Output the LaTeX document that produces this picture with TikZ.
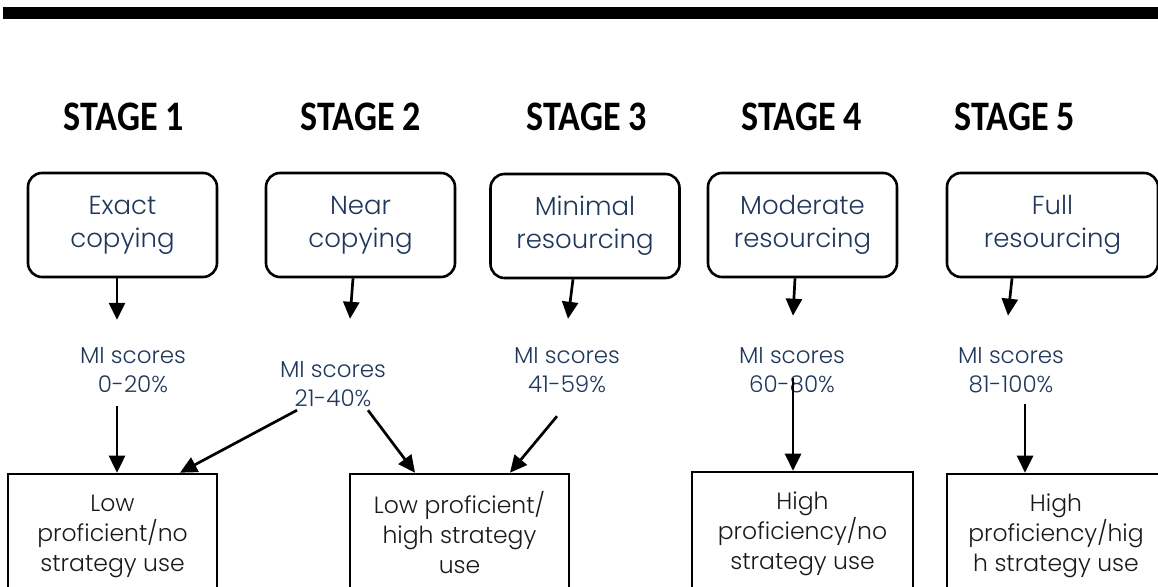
\documentclass[tikz,border=0pt]{standalone}
\usepackage{fontspec}
\usepackage{tikz}
\usetikzlibrary{arrows.meta}
\IfFontExistsTF{Poppins Light}{\setmainfont{Poppins Light}}{\setmainfont{Poppins}}
\newfontfamily\titlefam[FakeStretch=0.86]{Carlito}
\definecolor{navy}{RGB}{30,55,90}

\begin{document}
\begin{tikzpicture}[x=1pt,y=-1pt,
  title/.style={font=\titlefam\bfseries\fontsize{42}{50}\selectfont},
  stagebox/.style={draw,line width=2.6pt,rounded corners=14pt,minimum width=189pt,minimum height=104pt,align=center,text=navy,font=\fontsize{26}{33}\selectfont},
  score/.style={align=center,text=navy,font=\fontsize{23}{29}\selectfont},
  levelbox/.style={draw,line width=2.6pt,minimum height=124pt,align=center,text=black!90,font=\fontsize{23.5}{30}\selectfont},
  arr/.style={line width=2.7pt,-{Triangle[length=17pt,width=16pt]}}]
\clip (0,0) rectangle (1158,586);
\useasboundingbox (0,0) rectangle (1158,586);
\fill (3,7) rectangle (1158,19);
\node[title] (s1) at (124,117) {STAGE 1};
\node[title] (s2) at (361,117) {STAGE 2};
\node[title] (s3) at (587,117) {STAGE 3};
\node[title] (s4) at (802,117) {STAGE 4};
\node[title] (s5) at (1015,117) {STAGE 5};
\node[stagebox] (b1) at (122.5,225) {Exact\\copying};
\node[stagebox] (b2) at (360.5,225) {Near\\copying};
\node[stagebox] (b3) at (585,226) {Minimal\\resourcing};
\node[stagebox] (b4) at (802.5,225) {Moderate\\resourcing};
\node[stagebox,minimum width=211pt] (b5) at (1052.5,225) {Full\\resourcing};
\node[score] (m1) at (133,370) {MI scores\\0-20\%};
\node[score] (m2) at (333,384) {MI scores\\21-40\%};
\node[score] (m3) at (567,370) {MI scores\\41-59\%};
\node[score] (m4) at (792,370) {MI scores\\60-80\%};
\node[score] (m5) at (1011,370) {MI scores\\81-100\%};
\node[levelbox,minimum width=209pt] (l1) at (112.5,536) {Low\\proficient/no\\strategy use};
\node[levelbox,minimum width=219pt] (l2) at (459.5,536) {Low proficient/\\high strategy\\use\vphantom{g}};
\node[levelbox,minimum width=221pt] (l4) at (802.5,534) {High\\proficiency/no\\strategy use};
\node[levelbox,minimum width=218pt] (l5) at (1056,536) {High\\proficiency/hig\\h strategy use};
\draw[arr] ([xshift=-5.5pt]b1.south) -- ([xshift=-16pt,yshift=24pt]m1.north);
\draw[arr] ([xshift=-7.5pt]b2.south) -- ([xshift=17pt,yshift=39pt]m2.north);
\draw[arr] ([xshift=-12pt]b3.south) -- ([xshift=1pt,yshift=25pt]m3.north);
\draw[arr] ([xshift=-7.5pt]b4.south) -- ([xshift=1pt,yshift=28pt]m4.north);
\draw[arr] ([xshift=-40.5pt]b5.south) -- ([xshift=-3pt,yshift=28pt]m5.north);
\draw[arr] ([xshift=-16pt,yshift=-10pt]m1.south) -- ([xshift=4.5pt]l1.north);
\draw[arr] ([xshift=-36pt]m2.south) -- ([xshift=67.5pt]l1.north);
\draw[arr] ([xshift=35pt]m2.south) -- ([xshift=-44.5pt]l2.north);
\draw[arr] ([xshift=-10pt,yshift=-20pt]m3.south) -- ([xshift=50.5pt]l2.north);
\draw[arr] ([xshift=1pt,yshift=-8pt]m4.center) -- ([xshift=-9.5pt]l4.north);
\draw[arr] ([xshift=14pt,yshift=-8pt]m5.south) -- ([xshift=-31pt]l5.north);
\end{tikzpicture}
\end{document}
